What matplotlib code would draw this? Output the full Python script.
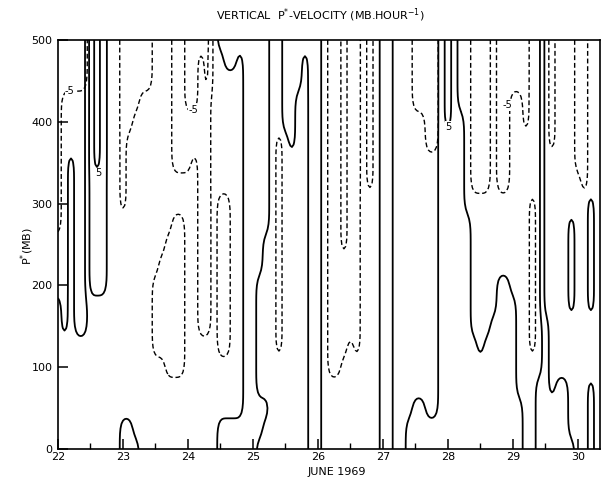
import numpy as np
import matplotlib
matplotlib.use("Agg")
import matplotlib.pyplot as plt

# grid: one column every 0.1 day, one level every 25 mb (strings run top 500 mb -> bottom 0 mb)
DAYS = np.round(np.arange(22.0, 30.41, 0.1), 1)
LEVELS = np.arange(500, -1, -25)

# regions bounded by the solid contours (positive side), per day column
SOLID_COLS = [
    "000000000000011111111", "000000000000000111111", "000000111111111111111", "000000000000000111111",
    "000000000000000111111", "222222222222211111111", "333333322222211111111", "222222222222211111111",
    "111111111111111111111", "111111111111111111111",  # 22.0 - 22.9
    "111111111111111111100", "111111111111111111100", "111111111111111111110", "111111111111111111111",
    "111111111111111111111", "111111111111111111111", "111111111111111111111", "111111111111111111111",
    "111111111111111111111", "111111111111111111111",  # 23.0 - 23.9
    "111111111111111111111", "111111111111111111111", "111111111111111111111", "111111111111111111111",
    "111111111111111111111", "011111111111111111100", "001111111111111111100", "001111111111111111100",
    "011111111111111111100", "000000000000000000000",  # 24.0 - 24.9
    "000000000000000000000", "000000000000111111001", "000000000011111111011", "111111111111111111111",
    "111111111111111111111", "000001111111111111111", "000000111111111111111", "000111111111111111111",
    "011111111111111111111", "000000000000000000000",  # 25.0 - 25.9
    "000000000000000000000", "111111111111111111111", "111111111111111111111", "111111111111111111111",
    "111111111111111111111", "111111111111111111111", "111111111111111111111", "111111111111111111111",
    "111111111111111111111", "111111111111111111111",  # 26.0 - 26.9
    "000000000000000000000", "000000000000000000000", "111111111111111111111", "111111111111111111111",
    "111111111111111111100", "111111111111111111000", "111111111111111111000", "111111111111111111100",
    "111111111111111111100", "000000000000000000000",  # 27.0 - 27.9
    "111110000000000000000", "000000000000000000000", "111100000000000000000", "111111111000000000000",
    "111111111111111000000", "111111111111111100000", "111111111111111000000", "111111111111110000000",
    "111111111111000000000", "111111111111000000000",  # 28.0 - 28.9
    "111111111111100000000", "111111111111111111000", "111111111111111111111", "111111111111111111111",
    "111111111111111112222", "333333333333332222222", "333333333333333333222", "333333333333333332222",
    "333333333333333332222", "333333333444443333332",  # 29.0 - 29.9
    "333333333333333333333", "333333333333333333333", "333333334444443334444", "333333333333333333333",
    "333333333333333333333",  # 30.0 - 30.4
]

# regions bounded by the dashed contours (negative side), per day column
DASHED_COLS = [
    "111111111100000000000", "111000000000000000000", "111000000000000000000", "111000000000000000000",
    "111000000000000000000", "000000000000000000000", "000000000000000000000", "000000000000000000000",
    "000000000000000000000", "000000000000000000000",  # 22.0 - 22.9
    "111111111000000000000", "111110000000000000000", "111100000000000000000", "111000000000000000000",
    "111000000000000000000", "000000000000111100000", "000000000001111100000", "000000000011111110000",
    "111111100111111110000", "111111100111111110000",  # 23.0 - 23.9
    "222211100000000000000", "222211000000000000000", "211111111111111000000", "222111111111111000000",
    "000000000000000000000", "000000001111111100000", "000000001111111100000", "000000000000000000000",
    "000000000000000000000", "000000000000000000000",  # 24.0 - 24.9
    "000000000000000000000", "000000000000000000000", "000000000000000000000", "000000000000000000000",
    "000001111111111100000", "000000000000000000000", "000000000000000000000", "000000000000000000000",
    "000000000000000000000", "000000000000000000000",  # 25.0 - 25.9
    "000000000000000000000", "000000000000000000000", "111111111111111110000", "111111111111111110000",
    "000000000001111100000", "111111111111111000000", "111111111111111100000", "000000000000000000000",
    "111111110000000000000", "000000000000000000000",  # 26.0 - 26.9
    "000000000000000000000", "000000000000000000000", "000000000000000000000", "000000000000000000000",
    "000000000000000000000", "111100000000000000000", "111100000000000000000", "111111000000000000000",
    "111111000000000000000", "000000000000000000000",  # 27.0 - 27.9
    "000000000000000000000", "000000000000000000000", "000000000000000000000", "000000000000000000000",
    "111111110000000000000", "111111110000000000000", "111111110000000000000", "000000000000000000000",
    "111111110000000000000", "111111110000000000000",  # 28.0 - 28.9
    "111000000000000000000", "111000000000000000000", "111110000000000000000", "000000001111111100000",
    "000000000000000000000", "000000000000000000000", "111111000000000000000", "000000000000000000000",
    "000000000000000000000", "000000000000000000000",  # 29.0 - 29.9
    "111111100000000000000", "111111110000000000000", "000000000000000000000", "000000000000000000000",
    "000000000000000000000",  # 30.0 - 30.4
]

# contour labels (text, day, mb)
LABEL_TEXT = ["-5", "5", "-5", "5", "-5"]
LABEL_DAY = [22.18, 22.62, 24.08, 28.01, 28.92]
LABEL_MB = [438, 337, 414, 394, 420]


def to_grid(cols):
    assert all(len(c) == len(LEVELS) for c in cols) and len(cols) == len(DAYS)
    g = np.array([[int(ch) for ch in c] for c in cols], dtype=float).T
    return g[::-1]  # bottom row first


def refine(g, x, y, k=4, sigma=1.6):
    # bilinear refinement + light blur so the hand-drawn look is rounder
    xf = np.linspace(x[0], x[-1], (len(x) - 1) * k + 1)
    yf = np.linspace(y[0], y[-1], (len(y) - 1) * k + 1)
    tmp = np.array([np.interp(xf, x, row) for row in g])
    fine = np.array([np.interp(yf, y, col) for col in tmp.T]).T
    r = int(3 * sigma)
    ker = np.exp(-0.5 * (np.arange(-r, r + 1) / sigma) ** 2)
    ker /= ker.sum()
    p = np.pad(fine, r, mode='edge')
    p = np.apply_along_axis(lambda v: np.convolve(v, ker, mode='same'), 1, p)
    p = np.apply_along_axis(lambda v: np.convolve(v, ker, mode='same'), 0, p)
    return xf, yf, p[r:-r, r:-r]


mb = LEVELS[::-1].astype(float)
xs, ys, solid = refine(to_grid(SOLID_COLS), DAYS, mb)
_, _, dashed = refine(to_grid(DASHED_COLS), DAYS, mb)

plt.rcParams.update({'font.family': 'DejaVu Sans', 'font.size': 8})
fig = plt.figure(figsize=(6.03, 4.78), dpi=100)
ax = fig.add_axes([58 / 603, 1 - 449 / 478, 542 / 603, 409 / 478])

ax.contour(xs, ys, solid, levels=[0.5, 1.5, 2.5, 3.5], colors='black',
           linewidths=1.3, linestyles='solid')
cs = ax.contour(xs, ys, dashed, levels=[0.5, 1.5], colors='black',
                linewidths=1.0)
cs.set_linestyle((0, (3.5, 2)))

for t, x, y in zip(LABEL_TEXT, LABEL_DAY, LABEL_MB):
    ax.text(x, y, t, fontsize=7, ha='center', va='center',
            bbox=dict(fc='white', ec='none', pad=0.2))

ax.set_xlim(22, 30.34)
ax.set_ylim(0, 500)
ax.set_xticks(range(22, 31))
ax.set_xticks(np.arange(22.5, 30.0, 1.0), minor=True)
ax.set_yticks(range(0, 501, 100))
ax.tick_params(which='major', direction='in', length=7, width=1.1, labelsize=8)
ax.tick_params(axis='x', which='major', pad=2)
ax.tick_params(axis='y', which='major', pad=4)
ax.tick_params(which='minor', direction='in', length=4, width=1.0)
for s in ax.spines.values():
    s.set_linewidth(1.2)

fig.text(320 / 603, 1 - 15 / 478, r"VERTICAL  P$^{*}$-VELOCITY (MB.HOUR$^{-1}$)",
         ha='center', va='center', fontsize=8)
fig.text(337 / 603, 1 - 472 / 478, "JUNE 1969", ha='center', va='center', fontsize=8)
fig.text(27 / 603, 1 - 246 / 478, r"P$^{*}$(MB)", ha='center', va='center',
         rotation=90, fontsize=8)

fig.savefig('out.png', dpi=100)
